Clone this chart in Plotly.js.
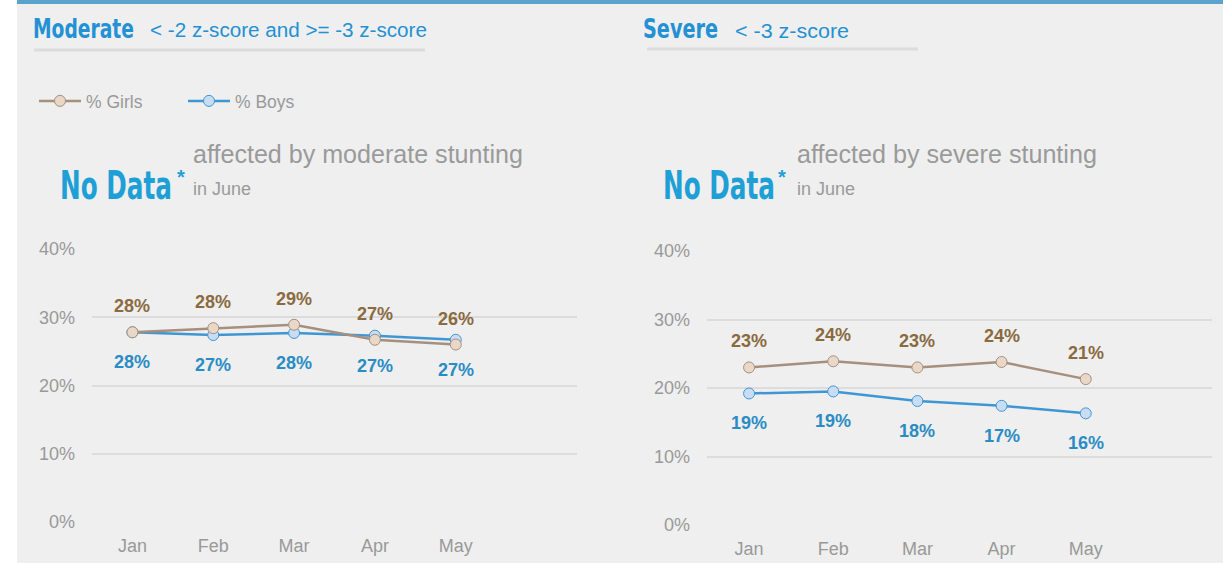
<!DOCTYPE html>
<html>
<head>
<meta charset="utf-8">
<script src="https://cdn.plot.ly/plotly-3.0.1.min.js"></script>
<style>html,body{margin:0;padding:0;background:#efefef;}#chart{width:1223px;height:563px;}</style>
</head>
<body>
<div id="chart"></div>
<script>
const months = ["Jan", "Feb", "Mar", "Apr", "May"];
const moderateGirls = [27.8, 28.4, 28.9, 26.7, 26.0];
const moderateBoys = [27.8, 27.4, 27.7, 27.3, 26.7];
const moderateGirlsLabels = ["28%", "28%", "29%", "27%", "26%"];
const moderateBoysLabels = ["28%", "27%", "28%", "27%", "27%"];
const severeGirls = [23.0, 23.9, 23.0, 23.8, 21.3];
const severeBoys = [19.2, 19.5, 18.1, 17.4, 16.3];
const severeGirlsLabels = ["23%", "24%", "23%", "24%", "21%"];
const severeBoysLabels = ["19%", "19%", "18%", "17%", "16%"];
const yTickVals = [0, 10, 20, 30, 40];
const yTickText = ["0%", "10%", "20%", "30%", "40%"];

const W = 1223, H = 563;
const px = x => x / W;
const py = y => 1 - y / H;
const idx = months.map((m, i) => i);

const girlsLine = '#a68f7d', girlsFill = '#e9d8c8', girlsText = '#8a6a3f';
const boysLine = '#3f96d4', boysFill = '#c8ddf3', boysText = '#2a8cc4';
const FONT = '"Liberation Sans", Arial, sans-serif';
const NARROW = '"Liberation Sans Narrow", "DejaVu Sans Condensed", "Liberation Sans", Arial, sans-serif';

function trace(y, xa, ya, line, fill, name, show, rank) {
  return {
    type: 'scatter', mode: 'lines+markers', x: idx, y: y, xaxis: xa, yaxis: ya,
    name: name, showlegend: show, legendrank: rank,
    line: {color: line, width: 2.5},
    marker: {size: 11, color: fill, line: {color: line, width: 1}},
    hoverinfo: 'skip'
  };
}

const data = [
  trace(moderateBoys, 'x', 'y', boysLine, boysFill, '% Boys', true, 2),
  trace(moderateGirls, 'x', 'y', girlsLine, girlsFill, '% Girls', true, 1),
  trace(severeBoys, 'x2', 'y2', boysLine, boysFill, '% Boys', false, 4),
  trace(severeGirls, 'x2', 'y2', girlsLine, girlsFill, '% Girls', false, 3)
];

const annotations = [];
const squeeze = [];
function labels(vals, texts, xref, yref, shift, color) {
  vals.forEach((v, i) => annotations.push({
    x: idx[i], y: v, xref: xref, yref: yref, text: texts[i], showarrow: false,
    yshift: shift, font: {family: FONT, size: 18, color: color, weight: 'bold'}
  }));
}
labels(moderateGirls, moderateGirlsLabels, 'x', 'y', 26, girlsText);
labels(moderateBoys, moderateBoysLabels, 'x', 'y', -30, boysText);
labels(severeGirls, severeGirlsLabels, 'x2', 'y2', 26, girlsText);
labels(severeBoys, severeBoysLabels, 'x2', 'y2', -30, boysText);

function txt(text, x, y, size, color, family, weight, width) {
  annotations.push({
    xref: 'paper', yref: 'paper', x: px(x), y: py(y), xanchor: 'left', yanchor: 'middle',
    text: text, showarrow: false,
    font: {family: family, size: size, color: color, weight: weight || 'normal'}
  });
  if (width) squeeze.push([annotations.length - 1, width]);
}
const titleBlue = '#2391d3';
txt('Moderate', 31, 29, 27, titleBlue, NARROW, 'bold', 101);
txt('&lt; -2 z-score and &gt;= -3 z-score', 148, 30, 20, titleBlue, FONT, 'normal', 277);
txt('Severe', 641, 29, 27, titleBlue, NARROW, 'bold', 75);
txt('&lt; -3 z-score', 733, 31, 20, titleBlue, FONT, 'normal', 114);

const noBlue = '#1e9fd6';
txt('No Data', 58, 185, 39, noBlue, NARROW, 'bold', 112);
txt('*', 175, 177, 20, noBlue, FONT, 'bold');
txt('affected by moderate stunting', 191, 154, 25, '#9a9a9a', FONT, 'normal', 330);
txt('in June', 191, 189, 18, '#9a9a9a', FONT);
txt('No Data', 661, 185, 39, noBlue, NARROW, 'bold', 112);
txt('*', 776, 177, 20, noBlue, FONT, 'bold');
txt('affected by severe stunting', 795, 154, 25, '#9a9a9a', FONT, 'normal', 300);
txt('in June', 795, 189, 18, '#9a9a9a', FONT);

const shapes = [
  {type: 'rect', xref: 'paper', yref: 'paper', x0: 0, x1: px(17), y0: 0, y1: 1, fillcolor: '#ffffff', line: {width: 0}, layer: 'below'},
  {type: 'rect', xref: 'paper', yref: 'paper', x0: px(17), x1: 1, y0: py(4), y1: 1, fillcolor: '#5ba3cb', line: {width: 0}},
  {type: 'line', xref: 'paper', yref: 'paper', x0: px(34), x1: px(425), y0: py(50), y1: py(50), line: {color: '#dcdcdc', width: 3}},
  {type: 'line', xref: 'paper', yref: 'paper', x0: px(647), x1: px(918), y0: py(49), y1: py(49), line: {color: '#dcdcdc', width: 3}}
];

function xaxis(domain) {
  return {
    domain: domain, range: [-0.5, 5.5], tickvals: idx, ticktext: months,
    showgrid: false, zeroline: false, showline: false, ticks: '',
    tickfont: {family: FONT, size: 18, color: '#999999'}, ticklabelstandoff: 11,
    fixedrange: true
  };
}
function yaxis(domain, anchor) {
  return {
    domain: domain, range: [0, 40], tickvals: yTickVals, ticktext: yTickText,
    showgrid: true, gridcolor: '#dcdcdc', gridwidth: 2, zeroline: false, showline: false, ticks: '',
    tickfont: {family: FONT, size: 18, color: '#999999'}, ticklabelstandoff: 16,
    anchor: anchor, fixedrange: true
  };
}

const layout = {
  width: W, height: H,
  margin: {l: 0, r: 0, t: 0, b: 0},
  paper_bgcolor: '#efefef', plot_bgcolor: 'rgba(0,0,0,0)',
  showlegend: true,
  legend: {
    orientation: 'h', x: px(34), y: py(101), xanchor: 'left', yanchor: 'middle',
    bgcolor: 'rgba(0,0,0,0)', font: {family: FONT, size: 17.5, color: '#999999'},
    itemwidth: 42, entrywidth: 92, entrywidthmode: 'pixels', traceorder: 'normal'
  },
  xaxis: xaxis([px(92), px(577)]),
  yaxis: yaxis([1 - 522 / H, 1 - 249 / H], 'x'),
  xaxis2: xaxis([px(707), px(1212)]),
  yaxis2: yaxis([1 - 525 / H, 1 - 251 / H], 'x2'),
  annotations: annotations,
  shapes: shapes
};
layout.xaxis2.anchor = 'y2';

Plotly.newPlot('chart', data, layout, {displayModeBar: false, staticPlot: true}).then(gd => {
  squeeze.forEach(([i, target]) => {
    const el = gd.querySelector('.annotation[data-index="' + i + '"] .annotation-text');
    if (!el) return;
    const bb = el.getBBox();
    if (!bb.width) return;
    const sx = target / bb.width;
    const prev = el.getAttribute('transform') || '';
    el.setAttribute('transform', prev + ' translate(' + (bb.x * (1 - sx)) + ',0) scale(' + sx + ',1)');
  });
});
</script>
</body>
</html>
